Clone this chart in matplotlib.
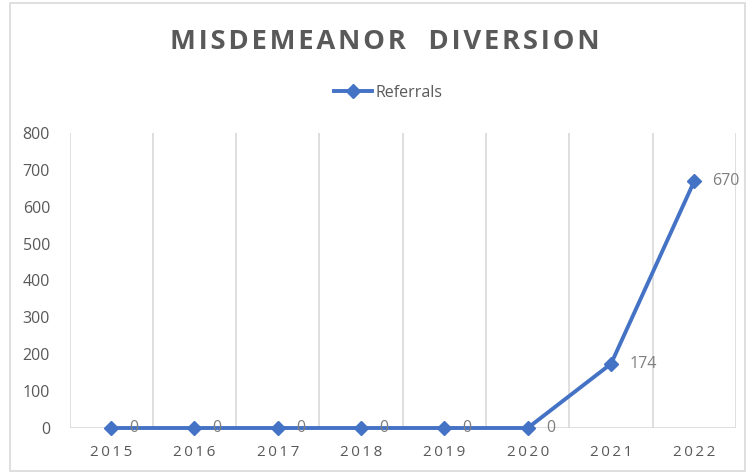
import matplotlib
matplotlib.use("Agg")
import matplotlib.pyplot as plt
from matplotlib.patches import Rectangle

years = ["2015", "2016", "2017", "2018", "2019", "2020", "2021", "2022"]
referrals = [0, 0, 0, 0, 0, 0, 174, 670]
yticks = [0, 100, 200, 300, 400, 500, 600, 700, 800]

FAM = ["Open Sans", "DejaVu Sans"]
W, H = 747, 474
fig = plt.figure(figsize=(W / 100, H / 100), dpi=100)
fig.patch.set_facecolor("white")

# outer border
fig.patches.append(Rectangle((10 / W, 3 / H), (W - 12) / W, (H - 6) / H,
                             transform=fig.transFigure, fill=False,
                             edgecolor="#d9d9d9", linewidth=1.2))

left, right, bottom, top = 69.5, 736, 428, 133
ax = fig.add_axes([left / W, 1 - bottom / H, (right - left) / W, (bottom - top) / H])

x = list(range(len(years)))
line, = ax.plot(x, referrals, color="#4472c4", linewidth=2.8, marker="D",
                markersize=7, label="Referrals", zorder=3, clip_on=False)

ax.set_xlim(-0.5, len(years) - 0.5)
ax.set_ylim(0, 800)
ax.set_yticks(yticks)
ax.set_yticklabels([str(v) for v in yticks], fontsize=11.5, color="#595959",
                   family=FAM)
ax.set_xticks(x)
ax.set_xticklabels(["\u2009".join(list(y)) for y in years], fontsize=11, color="#595959",
                   family=FAM)
for b in [i - 0.5 for i in range(len(years) + 1)]:
    ax.axvline(b, color="#d9d9d9", linewidth=1.2, zorder=1)
for s in ax.spines.values():
    s.set_visible(False)
ax.axhline(0, color="#d9d9d9", linewidth=1.2, zorder=1)
ax.tick_params(axis="both", length=0)
ax.tick_params(axis="y", pad=14)
ax.tick_params(axis="x", pad=12)

for xi, v in zip(x, referrals):
    ax.annotate(str(v), (xi, v), xytext=(13, 0), textcoords="offset points",
                ha="left", va="center", fontsize=11.5, color="#7f7f7f",
                family=FAM, zorder=4)

title = "MISDEMEANOR  DIVERSION"
fig.text(385 / W, 1 - 42 / H, "\u200a".join(list(title)),
         ha="center", va="center", fontsize=19.7, fontweight="bold",
         color="#595959", family=FAM)

leg = fig.legend(handles=[line], loc="center", bbox_to_anchor=(388 / W, 1 - 93 / H),
                 frameon=False, fontsize=11.5, handlelength=2.4, handletextpad=0.2)
for t in leg.get_texts():
    t.set_color("#595959")
    t.set_family(FAM)

fig.savefig("out.png", dpi=100, facecolor="white")
